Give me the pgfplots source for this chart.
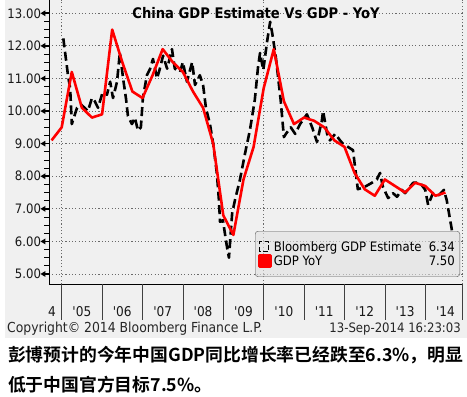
\documentclass[border=0pt]{standalone}
\usepackage{fontspec}
\setmainfont{DejaVu Sans Condensed}[BoldFont={DejaVu Sans Condensed Bold}]
\newfontfamily\cjk{Noto Sans CJK SC}[BoldFont={Noto Sans CJK SC Bold}]
\usepackage{pgfplots}
\pgfplotsset{compat=1.18}
\definecolor{bg}{RGB}{240,240,240}
\definecolor{legbg}{RGB}{226,226,226}
\definecolor{gridc}{RGB}{105,105,105}
\begin{document}
\begin{tikzpicture}
\useasboundingbox (0pt,0pt) rectangle (467pt,397pt);
\fill[white] (0pt,0pt) rectangle (467pt,397pt);
\fill[bg] (5pt,59pt) rectangle (467pt,397pt);
\begin{axis}[
  at={(49pt,113pt)}, anchor=south west,
  scale only axis, width=413.7pt, height=284pt,
  xmin=4.686, xmax=14.926, ymin=4.693, ymax=13.408,
  clip=false,
  axis lines=left, axis line style={-, black, line width=0.8pt},
  tick align=outside,
  major tick length=8pt, minor tick length=4.5pt,
  xtick={5.5,6.5,7.5,8.5,9.5,10.5,11.5,12.5,13.5,14.5},
  xticklabels={\textquotesingle 05,\textquotesingle 06,\textquotesingle 07,\textquotesingle 08,\textquotesingle 09,\textquotesingle 10,\textquotesingle 11,\textquotesingle 12,\textquotesingle 13,\textquotesingle 14},
  xtick style={draw=none},
  extra x ticks={4.76}, extra x tick labels={4},
  extra x tick style={tick style={draw=none}},
  xticklabel style={font=\fontsize{13.5}{15}\selectfont, anchor=base, yshift=-25pt, text=black!90},
  ytick={5,6,7,8,9,10,11,12,13},
  yticklabels={5.00,6.00,7.00,8.00,9.00,10.00,11.00,12.00,13.00},
  yticklabel style={font=\fontsize{13}{15}\selectfont, xshift=3.5pt, text=black!90},
  minor y tick num=3,
  every major y tick/.style={draw=none},
  every minor y tick/.style={black, line width=0.8pt},
  ymajorgrids,
  major grid style={gridc, line width=0.8pt, dash pattern=on 1.1pt off 2.2pt},
  legend style={at={(0.9935,0.1866)}, anchor=north east, draw=black!65,
    fill=legbg, fill opacity=0.6, text opacity=1, rounded corners=3pt,
    font=\fontsize{13}{15.5}\selectfont, inner xsep=3pt, inner ysep=8pt,
    row sep=-1pt},
  legend cell align=left,
]
% vertical dotted grid
\draw[gridc, line width=0.8pt, dash pattern=on 1.1pt off 2.2pt] (axis cs:5,4.693) -- (axis cs:5,13.408);
\draw[gridc, line width=0.8pt, dash pattern=on 1.1pt off 2.2pt] (axis cs:10,4.693) -- (axis cs:10,13.408);
\draw[gridc, line width=0.8pt, dash pattern=on 1.1pt off 2.2pt] (axis cs:14.926,4.693) -- (axis cs:14.926,13.408);
% year separators below axis
\pgfplotsinvokeforeach{5,6,7,8,9,10,11,12,13,14,14.926}{
  \draw[black!75, line width=0.7pt] (axis cs:#1,4.693) -- ++(0pt,-36pt);
}
% y major tick markers
\pgfplotsinvokeforeach{5,6,7,8,9,10,11,12,13}{
  \draw[black, line width=1.6pt] (axis cs:4.686,#1) -- ++(-4.5pt,0pt);
  \fill[black] (axis cs:4.686,#1) ++(-3.5pt,-3pt) -- ++(0pt,6pt) -- ++(-5pt,-3pt) -- cycle;
}
\addplot[black, line width=2.6pt, dash pattern=on 9pt off 4.5pt, line join=round,
  legend image code/.code={\draw[black, sharp corners, line width=1pt, dash pattern=on 5pt off 2.5pt] (0pt,-5pt) rectangle (9pt,5pt);}]
coordinates {(5.04,12.23)(5.16,11.06)(5.21,10.7)(5.25,9.6)(5.38,10.1)(5.48,10.2)(5.65,10.0)(5.75,10.4)(5.82,10.3)(5.90,10.1)(6.02,10.6)(6.12,10.5)(6.20,10.9)(6.27,10.4)(6.37,10.9)(6.44,11.8)(6.52,11.0)(6.59,10.4)(6.64,9.85)(6.74,9.6)(6.81,9.8)(6.89,9.4)(6.96,9.5)(7.01,10.4)(7.11,11.1)(7.19,11.3)(7.26,11.6)(7.36,11.0)(7.43,11.3)(7.51,11.7)(7.61,11.3)(7.73,11.9)(7.80,11.3)(7.93,11.2)(8.00,11.5)(8.10,10.9)(8.23,11.5)(8.30,10.8)(8.42,11.1)(8.50,10.8)(8.57,10.1)(8.67,9.6)(8.75,9.0)(8.84,8.1)(8.89,7.3)(8.92,6.6)(8.99,6.65)(9.09,5.84)(9.14,5.5)(9.22,6.87)(9.29,7.27)(9.41,7.88)(9.54,8.71)(9.66,9.42)(9.78,10.34)(9.86,11.35)(9.91,11.78)(9.99,11.26)(10.09,12.18)(10.16,12.74)(10.21,12.4)(10.30,11.66)(10.42,10.34)(10.50,9.2)(10.55,9.3)(10.67,9.5)(10.78,9.3)(10.90,9.6)(11.07,9.9)(11.20,9.5)(11.32,9.05)(11.44,9.7)(11.47,10.0)(11.57,9.3)(11.64,9.1)(11.77,9.3)(11.89,9.1)(11.96,9.0)(12.21,8.8)(12.26,8.3)(12.33,7.6)(12.51,7.68)(12.68,7.8)(12.80,7.9)(12.88,8.1)(12.95,7.68)(13.08,7.33)(13.20,7.48)(13.30,7.37)(13.42,7.58)(13.50,7.48)(13.70,7.8)(13.87,7.8)(14.00,7.58)(14.07,7.12)(14.19,7.48)(14.34,7.42)(14.46,7.58)(14.53,7.27)(14.66,6.34)};
\addlegendentry{\makebox[181pt][l]{Bloomberg GDP Estimate\hfill 6.34}}
\addplot[red, line width=2.6pt, line join=round,
  legend image code/.code={\fill[red, sharp corners, fill opacity=1] (0pt,-5.5pt) rectangle (11pt,5.5pt);}]
coordinates {(4.75,9.1)(5.0,9.5)(5.25,11.2)(5.5,10.1)(5.75,9.8)(6.0,9.9)(6.25,12.5)(6.5,11.5)(6.75,10.6)(7.0,10.4)(7.25,11.1)(7.5,11.9)(7.75,11.5)(8.0,11.2)(8.25,10.6)(8.5,10.1)(8.75,9.0)(9.0,6.8)(9.25,6.2)(9.5,7.9)(9.75,8.9)(10.0,10.7)(10.25,11.9)(10.5,10.3)(10.75,9.6)(11.0,9.8)(11.25,9.7)(11.5,9.5)(11.75,9.1)(12.0,8.9)(12.25,8.1)(12.5,7.6)(12.75,7.4)(13.0,7.9)(13.25,7.7)(13.5,7.5)(13.75,7.8)(14.0,7.7)(14.25,7.4)(14.5,7.5)};
\addlegendentry{\makebox[181pt][l]{GDP YoY\hfill 7.50}}
\end{axis}
\node[anchor=base, font=\bfseries\fontsize{14.6}{17}\selectfont] at (256pt,378.7pt) {China GDP Estimate Vs GDP - YoY};
\node[anchor=base west, inner sep=0pt, font=\fontsize{13.8}{15}\selectfont, text=black!85] at (7pt,64pt) {Copyright\textcopyright{} 2014 Bloomberg Finance L.P.};
\node[anchor=base east, inner sep=0pt, font=\fontsize{13}{15}\selectfont, text=black!85] at (461pt,64pt) {13-Sep-2014 16:23:03};
\node[anchor=base west, inner sep=0pt, font=\cjk\bfseries\fontsize{17.8}{21}\selectfont] at (8pt,35pt) {彭博预计的今年中国GDP同比增长率已经跌至6.3\%，明显};
\node[anchor=base west, inner sep=0pt, font=\cjk\bfseries\fontsize{17.8}{21}\selectfont] at (8pt,5pt) {低于中国官方目标7.5\%。};
\end{tikzpicture}
\end{document}
